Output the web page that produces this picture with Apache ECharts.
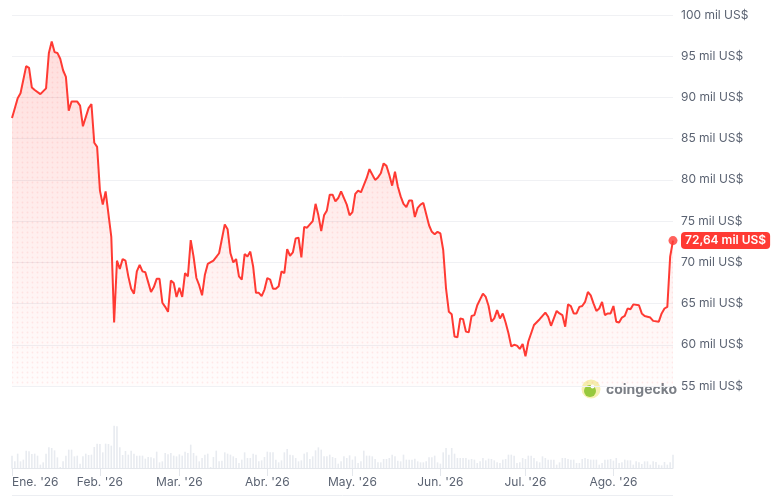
<!DOCTYPE html>
<html>
<head>
<meta charset="utf-8">
<script src="https://cdn.jsdelivr.net/npm/echarts@6/dist/echarts.min.js"></script>
<style>
html,body{margin:0;padding:0;background:#fff;}
#chart{width:775px;height:497px;}
</style>
</head>
<body>
<div id="chart"></div>
<script>
// ---- data ----
const startDate = '2026-01-01';
const monthStarts = ['2026-01-01','2026-02-01','2026-03-01','2026-04-01','2026-05-01','2026-06-01','2026-07-01','2026-08-01'];
const monthLabels = ["Ene. '26","Feb. '26","Mar. '26","Abr. '26","May. '26","Jun. '26","Jul. '26","Ago. '26"];
// day offset from 1 Jan 2026, price in thousands of US$
const priceDays = [0,1,2,3,5,6,7,8,10,12,13,14,15,16,17,18,19,20,21,23,24,25,27,28,29,30,31,32,33,35,36,37,38,39,40,41,42,43,44,45,46,47,48,49,50,51,52,53,54,55,56,57,58,59,60,61,62,63,64,65,66,67,68,69,71,73,75,76,77,78,79,80,81,82,83,84,85,86,87,88,89,90,91,92,93,94,95,96,97,98,99,100,101,102,103,104,106,107,108,109,110,111,112,113,114,115,116,118,119,120,121,122,123,125,126,128,129,130,131,132,133,134,135,136,137,138,139,140,141,142,143,144,145,147,148,149,150,151,152,153,154,155,156,157,158,159,160,161,162,163,164,166,167,168,169,170,171,172,173,174,175,176,177,178,179,180,181,182,184,186,188,189,190,191,192,193,194,195,196,197,198,199,200,201,202,203,204,205,206,207,208,209,210,211,212,213,214,215,216,217,218,219,221,222,223,225,226,228,229,230,231,232,233];
const prices = [87.5,88.7,89.9,90.5,93.8,93.6,91.2,90.9,90.4,91.1,95.4,96.8,95.5,95.4,94.7,93.3,92.5,88.4,89.5,89.5,89.0,86.5,88.7,89.2,84.5,84.0,78.7,77.0,78.6,73.1,62.7,70.2,69.2,70.4,70.2,68.3,66.8,66.2,68.9,69.7,68.9,68.8,67.6,66.4,67.0,68.0,68.0,65.1,64.6,64.0,67.8,67.5,65.8,66.9,65.8,68.7,68.3,72.7,70.7,68.1,67.2,66.0,68.5,69.8,70.2,71.1,74.6,74.0,71.1,70.0,70.4,68.3,67.9,71.0,70.7,71.3,69.5,66.3,66.3,65.9,66.7,68.1,67.9,66.8,66.8,67.1,68.9,68.7,71.6,70.8,71.2,72.9,73.0,70.6,74.3,74.2,75.0,77.1,75.7,73.8,75.7,76.3,78.2,78.2,77.4,77.8,78.6,77.0,75.7,76.1,78.3,78.7,78.5,80.2,81.3,80.0,80.3,80.8,82.0,81.7,80.6,79.3,81.0,79.2,78.0,77.1,76.7,77.5,77.5,75.5,76.6,77.0,77.2,74.5,73.7,73.4,73.7,73.5,71.5,66.8,64.0,63.7,61.0,60.9,63.2,63.1,61.6,61.5,63.5,63.6,64.8,66.2,65.8,64.7,62.8,63.2,64.2,63.2,63.8,62.7,61.4,59.8,60.0,59.9,59.5,60.1,58.6,60.4,62.4,63.1,63.9,63.4,62.3,63.2,64.1,63.8,63.6,62.2,64.9,64.7,63.8,63.8,64.6,64.7,65.2,66.4,66.0,65.0,64.1,64.4,65.2,63.6,63.8,63.8,64.7,62.8,62.7,63.3,63.5,64.4,64.3,64.9,64.8,63.8,63.5,63.3,62.9,62.8,63.8,64.4,64.6,70.7,72.64];
// daily volume (relative units), days 0..233
const volumes = [37,20,43,20,25,52,50,42,43,37,10,17,43,62,60,53,32,3,20,37,55,55,35,37,13,35,43,39,40,63,73,72,47,73,72,67,127,125,62,39,51,40,52,43,37,37,37,28,33,32,29,49,17,20,45,41,45,37,35,41,37,49,45,70,45,37,20,30,40,43,3,33,52,20,22,47,43,40,
35,30,15,25,47,30,30,43,40,20,23,33,49,47,47,25,17,23,47,57,40,38,30,20,23,43,47,27,35,53,62,55,35,35,40,33,30,13,20,35,30,38,25,35,15,20,52,37,37,35,27,17,17,27,27,30,40,35,22,20,40,25,25,25,28,20,17,17,20,32,32,37,17,13,47,60,40,60,
43,30,30,30,30,25,27,25,15,20,30,23,28,27,23,17,15,25,27,40,40,37,15,17,30,27,37,37,30,20,17,35,30,25,25,25,10,17,30,30,27,25,25,15,15,27,30,27,25,25,25,10,15,25,25,27,22,30,15,17,25,23,23,10,20,17,12,20,20,10,20,18,10,8,18,10,17,40];

// ---- build ----
const DAY = 86400000;
const t0 = Date.parse(startDate + 'T00:00:00Z');
const lastDay = priceDays[priceDays.length - 1];
const monthDays = monthStarts.map(d => Math.round((Date.parse(d + 'T00:00:00Z') - t0) / DAY));
const priceData = priceDays.map((d, i) => [d, prices[i]]);
const volData = volumes.map((v, i) => [i, v]);
const lastPoint = priceData[priceData.length - 1];

function fmtPrice(v) { return v.toFixed(2).replace('.', ',') + ' mil US$'; }
function monthLabel(v) {
  const i = monthDays.indexOf(Math.round(v));
  return i >= 0 ? monthLabels[i] : '';
}

// dotted pattern for the area
const pc = document.createElement('canvas');
pc.width = 5; pc.height = 5;
const pctx = pc.getContext('2d');
pctx.fillStyle = 'rgba(255,80,80,0.16)';
pctx.beginPath(); pctx.arc(2.5, 2.5, 0.9, 0, Math.PI * 2); pctx.fill();

const red = '#ff3a33';
const chart = echarts.init(document.getElementById('chart'), null, {renderer: 'canvas'});
chart.setOption({
  animation: false,
  backgroundColor: '#fff',
  textStyle: {fontFamily: 'Inter, "Noto Sans", sans-serif'},
  grid: [
    {left: 12, right: 102, top: 15, bottom: 111},
    {left: 12, right: 102, top: 420, height: 48}
  ],
  xAxis: [
    {type: 'value', gridIndex: 0, min: 0, max: lastDay, show: false},
    {type: 'value', gridIndex: 1, min: 0, max: lastDay,
     axisLine: {show: true, lineStyle: {color: '#e4e7ec', width: 1}},
     axisTick: {show: true, customValues: monthDays, length: 8, lineStyle: {color: '#e4e7ec'}},
     axisLabel: {customValues: monthDays, formatter: monthLabel, color: '#5b6372', fontSize: 12, margin: 8, alignMinLabel: 'left', hideOverlap: false},
     splitLine: {show: false}}
  ],
  yAxis: [
    {type: 'value', gridIndex: 0, position: 'right', min: 55, max: 100, interval: 5,
     axisLine: {show: false}, axisTick: {show: false},
     axisLabel: {color: '#5b6372', fontSize: 12, margin: 8, formatter: v => v + ' mil US$'},
     splitLine: {lineStyle: {color: '#f0f1f4', width: 1}}},
    {type: 'value', gridIndex: 1, min: 0, max: 144, show: false}
  ],
  series: [
    {type: 'bar', xAxisIndex: 1, yAxisIndex: 1, data: volData, barWidth: 1.6,
     itemStyle: {color: '#e8ebf0'}, silent: true},
    {type: 'line', xAxisIndex: 0, yAxisIndex: 0, data: priceData, showSymbol: false, silent: true,
     lineStyle: {width: 0, opacity: 0},
     areaStyle: {color: {image: pc, repeat: 'repeat'}}, z: 2},
    {type: 'line', xAxisIndex: 0, yAxisIndex: 0, data: priceData, showSymbol: false, silent: true,
     lineStyle: {color: red, width: 2},
     areaStyle: {color: new echarts.graphic.LinearGradient(0, 0, 0, 1, [
       {offset: 0, color: 'rgba(255,58,51,0.24)'},
       {offset: 1, color: 'rgba(255,58,51,0.02)'}
     ])},
     endLabel: {show: true, formatter: p => fmtPrice(p.value[1]), color: '#fff', backgroundColor: red,
       borderRadius: 4, padding: [3, 4, 2, 4], fontSize: 12, fontWeight: 600, distance: 8},
     z: 3},
    {type: 'scatter', xAxisIndex: 0, yAxisIndex: 0, data: [lastPoint], symbolSize: 9,
     itemStyle: {color: red}, silent: true, z: 4}
  ],
  graphic: [
    {type: 'line', shape: {x1: 12, y1: 495.5, x2: 673, y2: 495.5}, style: {stroke: '#eceef2', lineWidth: 1}, silent: true},
    {type: 'circle', shape: {cx: 591, cy: 389, r: 9.5}, style: {fill: '#f6f0b0'}, silent: true},
    {type: 'circle', shape: {cx: 590, cy: 391, r: 6}, style: {fill: '#97c93d'}, silent: true},
    {type: 'circle', shape: {cx: 592.5, cy: 386.5, r: 2}, style: {fill: '#ffffff'}, silent: true},
    {type: 'text', x: 606, y: 390, style: {text: 'coingecko', fill: '#7b7f86', font: 'bold 14px Inter, "Noto Sans", sans-serif', verticalAlign: 'middle'}, silent: true}
  ]
});
</script>
</body>
</html>
